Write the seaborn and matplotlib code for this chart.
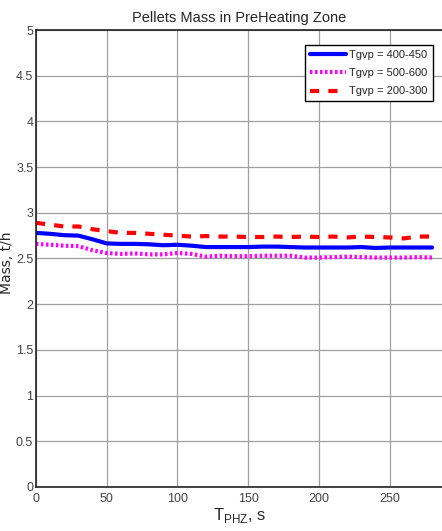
import numpy as np
import pandas as pd
import matplotlib
matplotlib.use('Agg')
import matplotlib.pyplot as plt
import seaborn as sns

# time, s
t = [0, 10, 20, 30, 40, 50, 60, 70, 80, 90, 100, 110, 120, 130, 140,
     150, 160, 170, 180, 190, 200, 210, 220, 230, 240, 250, 260, 270, 280]

mass_400_450 = [2.78, 2.77, 2.755, 2.75, 2.71, 2.665, 2.66, 2.66, 2.655, 2.645,
                2.65, 2.64, 2.625, 2.625, 2.625, 2.625, 2.63, 2.63, 2.625, 2.62,
                2.62, 2.62, 2.62, 2.625, 2.615, 2.62, 2.62, 2.62, 2.62]
mass_500_600 = [2.66, 2.65, 2.64, 2.635, 2.59, 2.56, 2.55, 2.555, 2.545, 2.545,
                2.56, 2.55, 2.52, 2.53, 2.525, 2.525, 2.53, 2.53, 2.53, 2.51,
                2.51, 2.515, 2.52, 2.515, 2.51, 2.51, 2.51, 2.515, 2.51]
mass_200_300 = [2.89, 2.87, 2.85, 2.85, 2.82, 2.80, 2.78, 2.78, 2.77, 2.76,
                2.75, 2.74, 2.745, 2.74, 2.74, 2.735, 2.735, 2.74, 2.735, 2.74,
                2.735, 2.74, 2.73, 2.74, 2.735, 2.73, 2.72, 2.74, 2.74]

labels = ['Tgvp = 400-450', 'Tgvp = 500-600', 'Tgvp = 200-300']

df = pd.concat([
    pd.DataFrame({'t': t, 'mass': mass_400_450, 'series': labels[0]}),
    pd.DataFrame({'t': t, 'mass': mass_500_600, 'series': labels[1]}),
    pd.DataFrame({'t': t, 'mass': mass_200_300, 'series': labels[2]}),
])

sns.set_style('whitegrid')
plt.rcParams['font.family'] = ['Liberation Sans', 'DejaVu Sans']

fig = plt.figure(figsize=(4.42, 5.31), dpi=100)
ax = fig.add_axes([0.0814, 0.0829, 0.9186, 0.8606])

palette = {labels[0]: '#0000ff', labels[1]: '#ff00ff', labels[2]: '#ff0000'}
dashes = {labels[0]: '', labels[1]: (0.6, 0.6), labels[2]: (2.2, 2.2)}

sns.lineplot(data=df, x='t', y='mass', hue='series', style='series',
             palette=palette, dashes=dashes, linewidth=3, ax=ax)

ax.set_xlim(0, 287)
ax.set_ylim(0, 5)
ax.set_xticks([0, 50, 100, 150, 200, 250])
ax.set_yticks(np.arange(0, 5.01, 0.5))
ax.set_yticklabels(['0', '0.5', '1', '1.5', '2', '2.5', '3', '3.5', '4', '4.5', '5'])
ax.grid(True, color='#a0a0a0', linewidth=0.9)
ax.tick_params(labelsize=9, colors='#444444', length=0, pad=2)
ax.tick_params(axis='x', pad=4)

for side in ['left', 'bottom', 'top']:
    ax.spines[side].set_color('#222222')
    ax.spines[side].set_linewidth(1.2)
ax.spines['right'].set_visible(False)

ax.set_title('Pellets Mass in PreHeating Zone', fontsize=10.5, pad=6)
ax.set_xlabel(r'T$_{\mathregular{PHZ}}$, s', fontsize=12, labelpad=1)
ax.set_ylabel('Mass, t/h', fontsize=10, family=['DejaVu Sans'])
ax.yaxis.set_label_coords(-0.055, 0.49)

leg = ax.legend(loc='upper right', bbox_to_anchor=(0.985, 0.975), fontsize=8,
                frameon=True, fancybox=False, edgecolor='black', framealpha=1,
                handlelength=3.2, handletextpad=0.3, borderpad=0.45,
                labelspacing=0.75, borderaxespad=0.3)
leg.get_frame().set_linewidth(1.0)

fig.savefig('out.png', dpi=100)
